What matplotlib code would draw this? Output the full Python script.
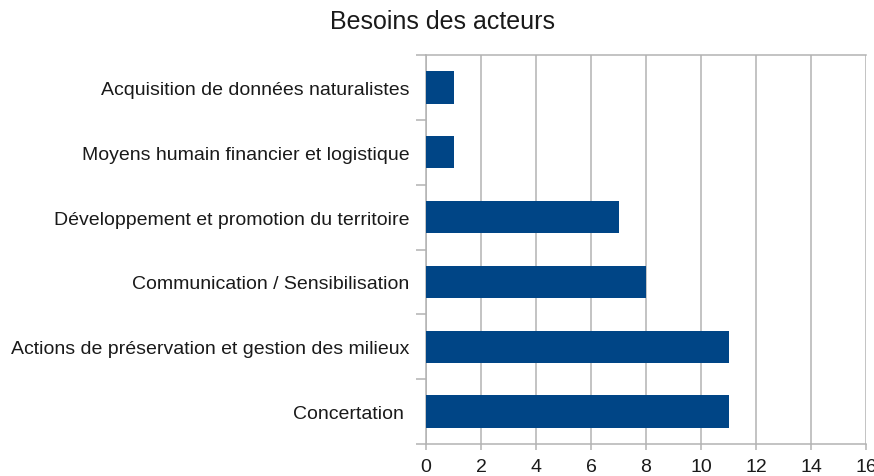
import matplotlib
matplotlib.use("Agg")
import matplotlib.pyplot as plt
import numpy as np

categories = [
    "Concertation ",
    "Actions de préservation et gestion des milieux",
    "Communication / Sensibilisation",
    "Développement et promotion du territoire",
    "Moyens humain financier et logistique",
    "Acquisition de données naturalistes",
]
values = [11, 11, 8, 7, 1, 1]
x_ticks = [0, 2, 4, 6, 8, 10, 12, 14, 16]

plt.rcParams["font.family"] = ["Liberation Sans", "DejaVu Sans"]

GRID = "#b3b3b3"
BAR = "#004586"

fig = plt.figure(figsize=(8.74, 4.77), dpi=100)
ax = fig.add_axes([426 / 874, 1 - 445 / 477, 440 / 874, 389 / 477])

y = np.arange(len(categories))
ax.barh(y, values, height=0.5, color=BAR, zorder=3)

ax.set_xlim(0, 16)
ax.set_ylim(-0.5, len(categories) - 0.5)
ax.set_xticks(x_ticks)
ax.set_xticklabels([str(v) for v in x_ticks], fontsize=14, color="#1a1a1a")
ax.set_yticks(y)
ax.set_yticklabels(categories, fontsize=14, color="#1a1a1a")
ax.set_yticks(np.arange(len(categories) + 1) - 0.5, minor=True)

ax.tick_params(axis="y", which="major", length=0, pad=12)
ax.tick_params(axis="y", which="minor", length=7.2, width=1.1, color=GRID)
ax.tick_params(axis="x", length=4.5, width=1.1, color=GRID, pad=5.5)

ax.grid(True, axis="x", color=GRID, linewidth=1.1, zorder=0)
for side in ["left", "bottom", "top"]:
    ax.spines[side].set_color(GRID)
    ax.spines[side].set_linewidth(1.1)
ax.spines["right"].set_visible(False)

fig.text(443 / 874, 1 - 22 / 477, "Besoins des acteurs", ha="center", va="center",
         fontsize=18, color="#1a1a1a")

fig.savefig("out.png", dpi=100)
